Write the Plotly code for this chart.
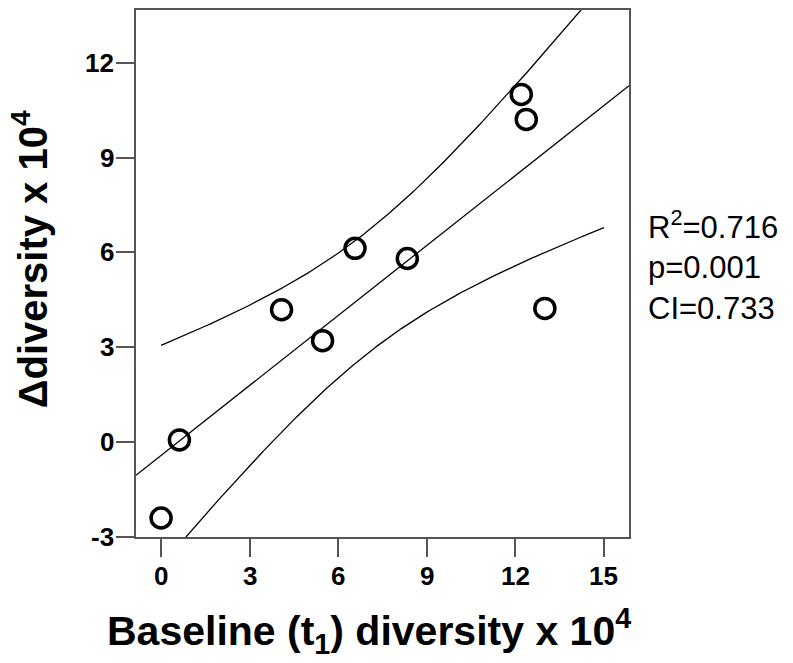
import numpy as np
import plotly.graph_objects as go

# Data (units x 10^4)
baseline = [0.0, 0.62, 4.08, 5.47, 6.57, 8.34, 12.2, 12.37, 13.0]
delta = [-2.4, 0.07, 4.19, 3.21, 6.13, 5.81, 11.0, 10.21, 4.23]
x_ticks = [0, 3, 6, 9, 12, 15]
y_ticks = [-3, 0, 3, 6, 9, 12]
stats_lines = ["R<sup>2</sup>=0.716", "p=0.001", "CI=0.733"]

x_range = [-0.85, 15.85]
y_range = [-3, 13.67]

# Linear fit and 95% confidence band of the mean (derived from the data)
xa = np.array(baseline)
ya = np.array(delta)
n = len(xa)
slope, intercept = np.polyfit(xa, ya, 1)
resid = ya - (intercept + slope * xa)
s = np.sqrt(np.sum(resid ** 2) / (n - 2))
sxx = np.sum((xa - xa.mean()) ** 2)
t_crit = 2.364624  # t(0.975, df=7)

xl = np.linspace(x_range[0], x_range[1], 200)
yl = intercept + slope * xl
xb = np.linspace(0, 15, 300)
fb = intercept + slope * xb
hw = t_crit * s * np.sqrt(1.0 / n + (xb - xa.mean()) ** 2 / sxx)

fig = go.Figure()
line_style = dict(color="black", width=1.3)
fig.add_trace(go.Scatter(x=xl, y=yl, mode="lines", line=line_style, hoverinfo="skip"))
fig.add_trace(go.Scatter(x=xb, y=fb + hw, mode="lines", line=line_style, hoverinfo="skip"))
fig.add_trace(go.Scatter(x=xb, y=fb - hw, mode="lines", line=line_style, hoverinfo="skip"))
fig.add_trace(go.Scatter(
    x=baseline, y=delta, mode="markers",
    marker=dict(symbol="circle-open", size=20, color="black", line=dict(width=3.5, color="black")),
))

FONT = "Liberation Sans"
axis_common = dict(
    showgrid=False, zeroline=False, showline=True, linecolor="#555555", linewidth=2,
    mirror=True, ticks="outside", ticklen=18, tickwidth=2, tickcolor="#555555",
    showticklabels=False,
)
fig.update_layout(
    xaxis=dict(range=x_range, tickmode="array", tickvals=x_ticks, **axis_common),
    yaxis=dict(range=y_range, tickmode="array", tickvals=y_ticks, **axis_common),
)

tick_font = dict(family=FONT, size=26, color="black")
tick_annotations = []
for v in x_ticks:
    tick_annotations.append(dict(
        text="<b>%d</b>" % v, xref="x", x=v, yref="paper", y=0, yshift=-39,
        xanchor="center", yanchor="middle", showarrow=False, font=tick_font))
for v in y_ticks:
    tick_annotations.append(dict(
        text="<b>%d</b>" % v, xref="paper", x=0, xshift=-20, yref="y", y=v,
        xanchor="right", yanchor="middle", showarrow=False, font=tick_font))

title_font = dict(family=FONT, size=41, color="black")
fig.update_layout(
    width=793, height=663,
    font=dict(family=FONT, size=23, color="black"),
    margin=dict(l=136, r=164, t=8, b=126),
    paper_bgcolor="white", plot_bgcolor="white",
    showlegend=False,
    annotations=tick_annotations + [
        dict(text="<b>Baseline (t<sub>1</sub>) diversity x 10<sup>4</sup></b>",
             xref="paper", yref="paper", x=0.472, y=-0.178, xanchor="center", yanchor="middle",
             showarrow=False, font=title_font),
        dict(text="<b>Δdiversity x 10<sup>4</sup></b>",
             xref="paper", yref="paper", x=-0.215, y=0.527, xanchor="center", yanchor="middle",
             textangle=-90, showarrow=False, font=dict(family=FONT, size=40, color="black")),
        dict(text="<br>".join(stats_lines),
             xref="paper", yref="paper", x=1.035, y=0.516, xanchor="left", yanchor="middle",
             align="left", showarrow=False,
             font=dict(family=FONT, size=31, color="black")),
    ],
)

fig.write_html("out.html")
